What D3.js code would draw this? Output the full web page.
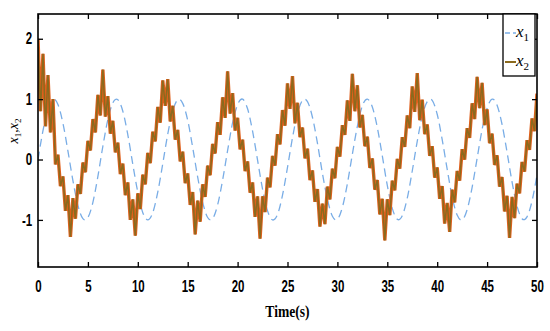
<!DOCTYPE html>
<html>
<head>
<meta charset="utf-8">
<script src="https://cdn.jsdelivr.net/npm/d3@7"></script>
<style>
  body { margin: 0; background: #fff; }
  .tick text { font-family: "Liberation Sans", Arial, sans-serif; font-weight: bold; font-size: 16px; fill: #000; }
</style>
</head>
<body>
<svg id="chart" width="550" height="331"></svg>
<script>
// time axis
const xTicks = [0, 5, 10, 15, 20, 25, 30, 35, 40, 45, 50];
const yTicks = [-1, 0, 1, 2];

// x1 sampled every 0.5 s (dashed reference-like curve)
const x1Step = 0.5;
const x1Values = [
  0.00, 0.48, 0.84, 1.00, 0.91, 0.60, 0.14, -0.35, -0.76, -0.98,
  -0.96, -0.71, -0.28, 0.22, 0.66, 0.94, 0.99, 0.80, 0.41, -0.08,
  -0.54, -0.88, -1.00, -0.88, -0.54, -0.07, 0.42, 0.80, 0.99, 0.93,
  0.65, 0.20, -0.29, -0.71, -0.96, -0.98, -0.75, -0.34, 0.15, 0.61,
  0.91, 1.00, 0.84, 0.47, -0.01, -0.49, -0.85, -1.00, -0.91, -0.59,
  -0.13, 0.36, 0.76, 0.98, 0.96, 0.70, 0.27, -0.23, -0.66, -0.94,
  -0.99, -0.79, -0.40, 0.09, 0.55, 0.89, 1.00, 0.87, 0.53, 0.06,
  -0.43, -0.81, -0.99, -0.93, -0.64, -0.19, 0.30, 0.72, 0.96, 0.98,
  0.75, 0.33, -0.16, -0.62, -0.92, -1.00, -0.83, -0.46, 0.02, 0.50,
  0.85, 1.00, 0.90, 0.58, 0.12, -0.37, -0.77, -0.98, -0.95, -0.69,
  -0.26
];

// x2 sampled every 0.25 s (chattering triangle-like curve)
const x2Step = 0.25;
const x2Values = [
  2.00, 0.80, 1.75, 0.55, 1.40, 0.45, 1.00, -0.08, 0.08, -0.44,
  -0.28, -0.85, -0.59, -1.28, -0.64, -0.98, -0.41, -0.57, -0.05, -0.21,
  0.31, 0.15, 0.67, 0.45, 1.07, 0.73, 1.49, 0.71, 1.05, 0.43,
  0.64, 0.12, 0.28, -0.24, -0.07, -0.59, -0.38, -1.00, -0.66, -1.26,
  -0.56, -0.82, -0.25, -0.41, 0.11, -0.06, 0.46, 0.30, 0.87, 0.61,
  1.31, 0.89, 1.33, 0.63, 0.89, 0.33, 0.49, -0.03, 0.13, -0.39,
  -0.23, -0.75, -0.54, -1.24, -0.68, -1.03, -0.41, -0.62, -0.10, -0.26,
  0.26, 0.10, 0.62, 0.41, 1.03, 0.69, 1.46, 0.76, 1.10, 0.48,
  0.69, 0.17, 0.33, -0.19, -0.03, -0.55, -0.38, -0.95, -0.61, -1.31,
  -0.61, -0.87, -0.30, -0.46, 0.06, -0.10, 0.42, 0.25, 0.82, 0.56,
  1.26, 0.84, 1.38, 0.60, 0.94, 0.37, 0.53, 0.02, 0.18, -0.34,
  -0.18, -0.70, -0.49, -1.11, -0.73, -1.07, -0.45, -0.66, -0.15, -0.31,
  0.21, 0.05, 0.57, 0.41, 0.98, 0.64, 1.42, 0.80, 1.23, 0.53,
  0.74, 0.22, 0.38, -0.14, 0.02, -0.50, -0.34, -0.91, -0.65, -1.34,
  -0.66, -0.92, -0.35, -0.51, 0.01, -0.15, 0.37, 0.21, 0.73, 0.52,
  1.21, 0.79, 1.43, 0.65, 0.99, 0.42, 0.58, 0.06, 0.22, -0.30,
  -0.13, -0.65, -0.44, -1.06, -0.72, -1.20, -0.50, -0.71, -0.19, -0.35,
  0.17, 0.00, 0.52, 0.36, 0.93, 0.67, 1.37, 0.85, 1.27, 0.57,
  0.83, 0.27, 0.43, -0.09, 0.07, -0.45, -0.29, -0.86, -0.60, -1.30,
  -0.62, -0.97, -0.40, -0.56, -0.04, -0.20, 0.32, 0.16, 0.68, 0.47,
  1.09
];

const seriesNames = ["1", "2"];
const x1Color = "#79ade6";
const x2Color = "#e0601c";
const x2Dark = "#8b6a1e";

const width = 550, height = 331;
const margin = { top: 14, right: 13, bottom: 64, left: 38 };

const svg = d3.select("#chart");

const x = d3.scaleLinear().domain([0, 50]).range([margin.left, width - margin.right]);
const y = d3.scaleLinear().domain([-1.78, 2.41]).range([height - margin.bottom, margin.top]);

svg.append("defs").append("clipPath").attr("id", "plot-clip")
  .append("rect")
  .attr("x", margin.left).attr("y", margin.top)
  .attr("width", width - margin.left - margin.right)
  .attr("height", height - margin.top - margin.bottom);

const plot = svg.append("g").attr("clip-path", "url(#plot-clip)");

const line1 = d3.line()
  .curve(d3.curveCardinal)
  .x((d, i) => x(i * x1Step))
  .y(d => y(d));

const line2 = d3.line()
  .x((d, i) => x(i * x2Step))
  .y(d => y(d));

// x1 dashed
plot.append("path")
  .datum(x1Values)
  .attr("fill", "none")
  .attr("stroke", x1Color)
  .attr("stroke-width", 1.3)
  .attr("stroke-dasharray", "8,5")
  .attr("d", line1);

// x2: orange body with darker olive core
plot.append("path")
  .datum(x2Values)
  .attr("fill", "none")
  .attr("stroke", x2Color)
  .attr("stroke-width", 3.4)
  .attr("d", line2);

plot.append("path")
  .datum(x2Values)
  .attr("fill", "none")
  .attr("stroke", x2Dark)
  .attr("stroke-width", 1.5)
  .attr("d", line2);

// axes
const plainFmt = d => String(d);

const xBottom = svg.append("g")
  .attr("transform", `translate(0,${height - margin.bottom})`)
  .call(d3.axisBottom(x).tickValues(xTicks).tickSize(-5).tickPadding(14).tickFormat(plainFmt));
xBottom.selectAll(".tick text").attr("transform", "scale(0.72,1)");

svg.append("g")
  .attr("transform", `translate(0,${margin.top})`)
  .call(d3.axisTop(x).tickValues(xTicks).tickSize(-5).tickFormat(""));

const yLeft = svg.append("g")
  .attr("transform", `translate(${margin.left},0)`)
  .call(d3.axisLeft(y).tickValues(yTicks).tickSize(-5).tickPadding(8).tickFormat(plainFmt));
yLeft.selectAll(".tick text").attr("transform", "scale(0.72,1)");

svg.append("g")
  .attr("transform", `translate(${width - margin.right},0)`)
  .call(d3.axisRight(y).tickValues(yTicks).tickSize(-5).tickFormat(""));

svg.selectAll(".domain").remove();
svg.selectAll(".tick line").attr("stroke", "#000").attr("stroke-width", 1.3);

// box
svg.append("rect")
  .attr("x", margin.left).attr("y", margin.top)
  .attr("width", width - margin.left - margin.right)
  .attr("height", height - margin.top - margin.bottom)
  .attr("fill", "none")
  .attr("stroke", "#000")
  .attr("stroke-width", 1.6);

// x label
svg.append("text")
  .attr("transform", `translate(${(margin.left + width - margin.right) / 2},317) scale(0.8,1)`)
  .attr("text-anchor", "middle")
  .attr("font-family", "Liberation Serif, Times New Roman, serif")
  .attr("font-weight", "bold")
  .attr("font-size", 17)
  .text("Time(s)");

// y label
const yl = svg.append("text")
  .attr("transform", "translate(18,131) rotate(-90)")
  .attr("text-anchor", "middle")
  .attr("font-family", "Liberation Serif, Times New Roman, serif")
  .attr("font-size", 14);
yl.append("tspan").attr("font-style", "italic").text("x");
yl.append("tspan").attr("font-size", 9).attr("dy", 3).text(seriesNames[0]);
yl.append("tspan").attr("dy", -3).text(",");
yl.append("tspan").attr("font-style", "italic").text("x");
yl.append("tspan").attr("font-size", 9).attr("dy", 3).text(seriesNames[1]);

// legend
const lg = svg.append("g").attr("transform", "translate(503,14)");
lg.append("rect")
  .attr("width", 32).attr("height", 62)
  .attr("fill", "#fff").attr("stroke", "#000").attr("stroke-width", 1.3);

const legendRows = [
  { name: seriesNames[0], color: x1Color, dash: "5,3", y: 19 },
  { name: seriesNames[1], color: x2Dark, dash: null, y: 48 }
];
legendRows.forEach(r => {
  lg.append("line")
    .attr("x1", 2).attr("x2", 13)
    .attr("y1", r.y).attr("y2", r.y)
    .attr("stroke", r.color)
    .attr("stroke-width", r.dash ? 1.3 : 2)
    .attr("stroke-dasharray", r.dash);
  const t = lg.append("text")
    .attr("x", 13).attr("y", r.y + 4)
    .attr("font-family", "Liberation Serif, Times New Roman, serif")
    .attr("font-size", 17);
  t.append("tspan").attr("font-style", "italic").text("x");
  t.append("tspan").attr("font-size", 11).attr("dy", 4).text(r.name);
});
</script>
</body>
</html>
